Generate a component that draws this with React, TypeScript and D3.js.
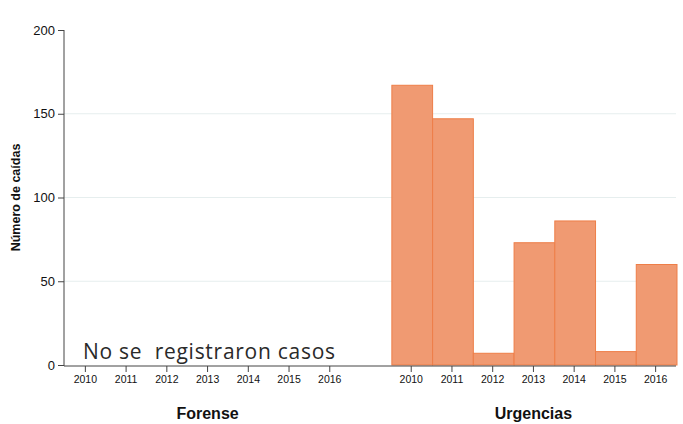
import { useEffect, useRef } from 'react'
import * as d3 from 'd3'

const years = ['2010', '2011', '2012', '2013', '2014', '2015', '2016']
const groups = ['Forense', 'Urgencias']
const forenseValues: number[] = []
const urgenciasValues = [167, 147, 7, 73, 86, 8, 60]
const yTicks = [0, 50, 100, 150, 200]

const W = 683
const H = 424
const margin = { top: 30, right: 7, bottom: 58, left: 64 }

export default function App() {
	const ref = useRef<SVGSVGElement>(null)

	useEffect(() => {
		const svg = d3.select(ref.current)
		svg.selectAll('*').remove()

		// slots: 7 forense years, one empty gap, 7 urgencias years
		const slots = [
			...years.map((y) => 'F' + y),
			'gap',
			...years.map((y) => 'U' + y),
		]
		const x = d3
			.scaleBand()
			.domain(slots)
			.range([margin.left + 1, W - margin.right])
			.padding(0)
		const y = d3
			.scaleLinear()
			.domain([0, 200])
			.range([H - margin.bottom - 1, margin.top])

		// grid
		svg
			.append('g')
			.selectAll('line')
			.data(yTicks.filter((t) => t > 0 && t < 200))
			.enter()
			.append('line')
			.attr('x1', margin.left)
			.attr('x2', W - margin.right)
			.attr('y1', (d) => y(d))
			.attr('y2', (d) => y(d))
			.attr('stroke', '#e6eeee')
			.attr('stroke-width', 1.2)

		// bars
		const bars = [
			...forenseValues.map((v, i) => ({ key: 'F' + years[i], v })),
			...urgenciasValues.map((v, i) => ({ key: 'U' + years[i], v })),
		]
		svg
			.append('g')
			.selectAll('rect')
			.data(bars)
			.enter()
			.append('rect')
			.attr('x', (d) => x(d.key)! + 1)
			.attr('y', (d) => y(d.v))
			.attr('width', x.bandwidth())
			.attr('height', (d) => y(0) - y(d.v))
			.attr('fill', '#f09a72')
			.attr('stroke', '#ee7e48')
			.attr('stroke-width', 1)

		// y axis
		const yAxis = d3
			.axisLeft(y)
			.tickValues(yTicks)
			.tickSize(6)
			.tickPadding(3)
		const gy = svg
			.append('g')
			.attr('transform', `translate(${margin.left},0)`)
			.call(yAxis)
		gy.select('.domain').attr('stroke', '#444').attr('d', `M0,${margin.top}V${y(0) + 1}`)
		gy.selectAll('.tick line').attr('stroke', '#444')
		gy.selectAll('.tick text')
			.style('font', '13px Arial, "Liberation Sans", sans-serif')
			.attr('fill', '#111')

		// x axis
		const xAxis = d3
			.axisBottom(x)
			.tickValues(slots.filter((s) => s !== 'gap'))
			.tickFormat((d) => d.slice(1))
			.tickSize(6)
			.tickPadding(4)
		const gx = svg
			.append('g')
			.attr('transform', `translate(0,${y(0) + 1})`)
			.call(xAxis)
		gx.select('.domain').attr('stroke', '#444').attr('d', `M${margin.left},0H${W - margin.right}`)
		gx.selectAll('.tick line').attr('stroke', '#444')
		gx.selectAll('.tick text')
			.style('font', '10.5px Arial, "Liberation Sans", sans-serif')
			.attr('fill', '#111')

		// group labels
		const groupCenter = (g: string) => {
			const pre = g === 'Forense' ? 'F' : 'U'
			return (x(pre + years[0])! + x(pre + years[years.length - 1])! + x.bandwidth()) / 2
		}
		svg
			.append('g')
			.selectAll('text')
			.data(groups)
			.enter()
			.append('text')
			.attr('x', (d) => groupCenter(d))
			.attr('y', 419)
			.attr('text-anchor', 'middle')
			.style('font', 'bold 16px Arial, "Liberation Sans", sans-serif')
			.attr('fill', '#111')
			.text((d) => d)

		// y axis label
		svg
			.append('text')
			.attr('transform', `translate(20,${(margin.top + y(0)) / 2}) rotate(-90)`)
			.attr('text-anchor', 'middle')
			.style('font', 'bold 12.5px Arial, "Liberation Sans", sans-serif')
			.attr('fill', '#111')
			.text('Número de caídas')

		// empty-data note
		svg
			.append('text')
			.attr('x', 83)
			.attr('y', y(0) - 6)
			.attr('textLength', 252)
			.attr('lengthAdjust', 'spacing')
			.style('font', '21px "Open Sans", sans-serif')
			.style('white-space', 'pre')
			.attr('fill', '#2a2a2a')
			.text('No se  registraron casos')
	}, [])

	return (
		<svg
			ref={ref}
			width={W}
			height={H}
			style={{ position: 'absolute', left: 0, top: 0, background: '#fff' }}
		/>
	)
}
